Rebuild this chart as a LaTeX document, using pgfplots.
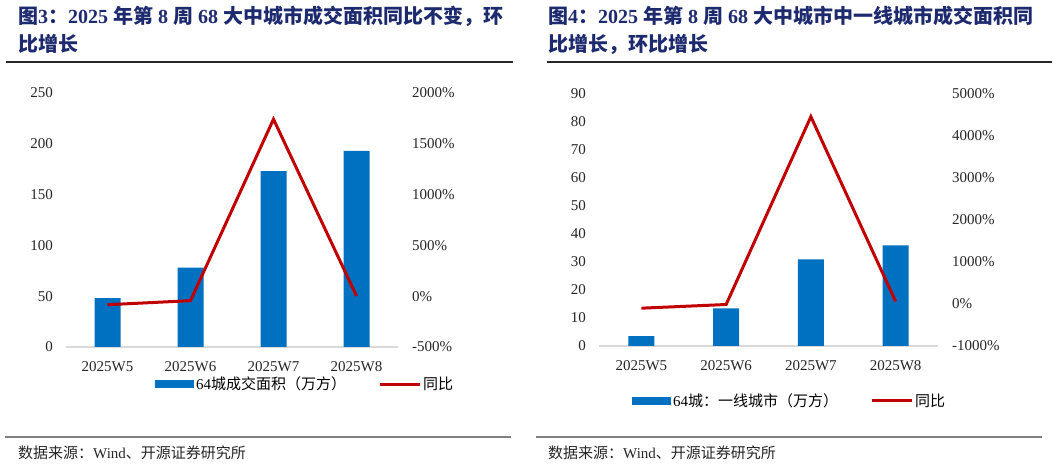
\documentclass[border=0pt]{standalone}
\usepackage{pgfplots}
\pgfplotsset{compat=1.18}
\usepackage{fontspec}
\setmainfont{Liberation Serif}
\newfontfamily\cjk{Noto Sans CJK SC}

\definecolor{barblue}{RGB}{0,112,192}
\definecolor{linered}{RGB}{192,0,0}
\definecolor{titleblue}{RGB}{30,42,110}
\definecolor{basegray}{RGB}{217,217,217}

\pgfplotstableread{
x area yoy
0 48 -84
1 78 -44
2 173 1742
3 193 2
}\leftdata
\pgfplotstableread{
x area yoy
0 3.5 -100
1 13.4 -12
2 30.9 4460
3 35.9 60
}\rightdata

\pgfplotsset{
  base/.style={
    scale only axis,
    xmin=-0.5, xmax=3.5,
    major tick length=0pt,
    tick label style={font=\fontsize{15bp}{18bp}\selectfont, text=black!85, inner sep=0pt},
    /pgf/number format/assume math mode=true,
    /pgf/number format/1000 sep={},
  },
  leftside/.style={
    base,
    axis x line*=bottom, axis y line*=left,
    x axis line style={draw=basegray, line width=1.2bp, -},
    y axis line style={draw=none},
    xtick={0,1,2,3},
    xticklabels={2025W5,2025W6,2025W7,2025W8},
    xticklabel style={anchor=north, yshift=-14bp},
    yticklabel style={anchor=east, xshift=-13bp},
    ybar, bar width=26bp,
    legend columns=2,
    legend style={draw=none, fill=none, inner sep=0pt,
      font=\fontsize{15bp}{18bp}\selectfont,
      /tikz/every even column/.append style={column sep=30bp}},
  },
  rightside/.style={
    base,
    axis x line=none, axis y line*=right,
    y axis line style={draw=none},
    yticklabel={\pgfmathprintnumber{\tick}\%},
    yticklabel style={anchor=west, xshift=14bp},
  },
}

\begin{document}
\begin{tikzpicture}[x=1bp,y=1bp]
\useasboundingbox (0,0) rectangle (1057,467);

% titles
\node[anchor=base west, inner sep=0pt, text=titleblue, font=\fontsize{20bp}{24bp}\selectfont\bfseries]
  at (18,443) {{\cjk 图}3{\cjk ：}2025 {\cjk 年第} 8 {\cjk 周} 68 {\cjk 大中城市成交面积同比不变，环}};
\node[anchor=base west, inner sep=0pt, text=titleblue, font=\fontsize{20bp}{24bp}\selectfont\bfseries]
  at (18,415) {\cjk 比增长};
\node[anchor=base west, inner sep=0pt, text=titleblue, font=\fontsize{20bp}{24bp}\selectfont\bfseries]
  at (548,443) {{\cjk 图}4{\cjk ：}2025 {\cjk 年第} 8 {\cjk 周} 68 {\cjk 大中城市中一线城市成交面积同}};
\node[anchor=base west, inner sep=0pt, text=titleblue, font=\fontsize{20bp}{24bp}\selectfont\bfseries]
  at (548,415) {\cjk 比增长，环比增长};
\draw[black!85, line width=1.3bp] (6,405) -- (513,405);
\draw[black!85, line width=1.3bp] (547,405) -- (1052,405);

% left chart
\begin{axis}[leftside, at={(66bp,120bp)}, anchor=south west, width=332bp, height=254bp,
  ymin=0, ymax=250, ytick distance=50,
  legend style={at={(0.268,-0.146)}, anchor=west}]
\addplot[fill=barblue, draw=none,
  legend image code/.code={\fill[barblue] (0bp,-4bp) rectangle (39bp,4bp);}]
  table[x=x, y=area] {\leftdata};
\addlegendentry{64{\cjk 城成交面积（万方）}}
\addlegendimage{legend image code/.code={\draw[linered, line width=3bp] (0bp,0bp) -- (40bp,0bp);}}
\addlegendentry{\cjk 同比}
\end{axis}
\begin{axis}[rightside, at={(66bp,120bp)}, anchor=south west, width=332bp, height=254bp,
  ymin=-500, ymax=2000, ytick distance=500]
\addplot[linered, line width=3bp, mark=none, sharp plot] table[x=x, y=yoy] {\leftdata};
\end{axis}

% right chart
\begin{axis}[leftside, at={(599bp,121bp)}, anchor=south west, width=339bp, height=252bp,
  ymin=0, ymax=90, ytick distance=10,
  legend style={at={(0.097,-0.218)}, anchor=west}]
\addplot[fill=barblue, draw=none,
  legend image code/.code={\fill[barblue] (0bp,-4bp) rectangle (39bp,4bp);}]
  table[x=x, y=area] {\rightdata};
\addlegendentry{64{\cjk 城：一线城市（万方）}}
\addlegendimage{legend image code/.code={\draw[linered, line width=3bp] (0bp,0bp) -- (40bp,0bp);}}
\addlegendentry{\cjk 同比}
\end{axis}
\begin{axis}[rightside, at={(599bp,121bp)}, anchor=south west, width=339bp, height=252bp,
  ymin=-1000, ymax=5000, ytick distance=1000]
\addplot[linered, line width=3bp, mark=none, sharp plot] table[x=x, y=yoy] {\rightdata};
\end{axis}

% footers
\draw[black!50, line width=2bp] (5,29.5) -- (511,29.5);
\draw[black!50, line width=2bp] (536,29.5) -- (1042,29.5);
\node[anchor=base west, inner sep=0pt, font=\fontsize{15bp}{18bp}\selectfont, text=black!85]
  at (18,8) {{\cjk 数据来源：}Wind{\cjk 、开源证券研究所}};
\node[anchor=base west, inner sep=0pt, font=\fontsize{15bp}{18bp}\selectfont, text=black!85]
  at (548,8) {{\cjk 数据来源：}Wind{\cjk 、开源证券研究所}};
\end{tikzpicture}
\end{document}
